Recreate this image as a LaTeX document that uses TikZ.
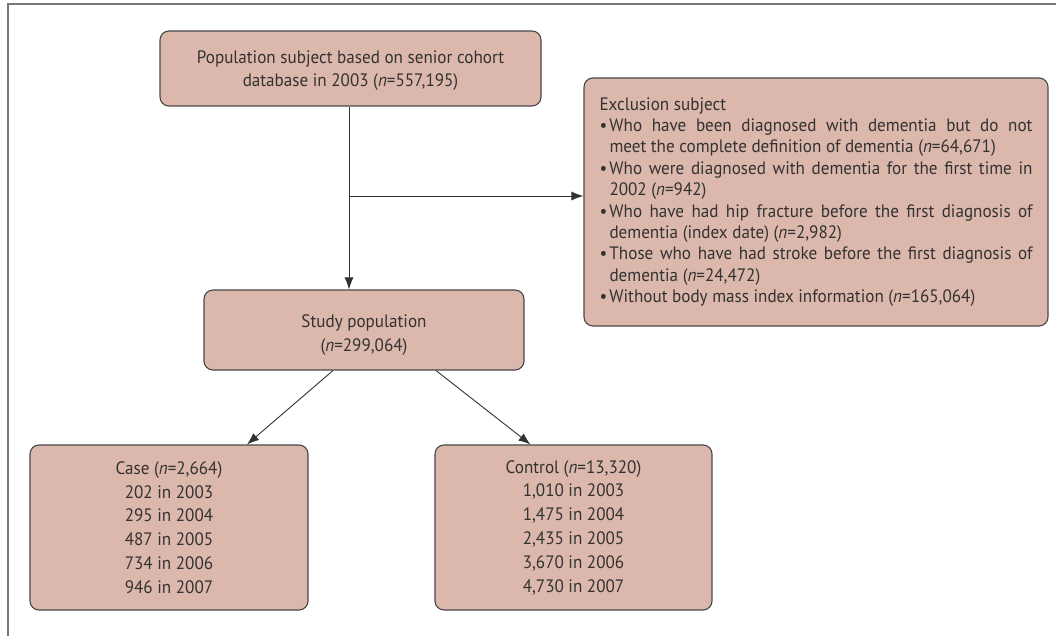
\documentclass[tikz,border=0pt]{standalone}
\usepackage{fontspec}
\setmainfont[FakeStretch=0.95]{PT Sans}
\usetikzlibrary{arrows.meta,calc}
\definecolor{boxfill}{RGB}{220,184,172}
\definecolor{boxdraw}{RGB}{72,72,72}
\definecolor{txt}{RGB}{50,50,50}
\definecolor{framec}{RGB}{120,120,120}
\newcommand{\exitem}[1]{\par\noindent\hangindent=10pt\hangafter=1\makebox[10pt][l]{\textbullet}#1}
\begin{document}
\begin{tikzpicture}[x=1pt,y=-1pt,
  box/.style={draw=boxdraw, fill=boxfill, rounded corners=9pt, line width=1.1pt,
    text=txt, inner sep=0pt, font=\fontsize{18}{23.8}\selectfont},
  arr/.style={draw=txt, line width=0.9pt, -{Latex[length=12pt,width=9pt]}},
  link/.style={draw=txt, line width=0.9pt}]
\useasboundingbox (0,0) rectangle (1056,636);
\draw[framec, line width=2pt] (8,636) -- (8,4.5) -- (1056,4.5);

\node[box, minimum width=381pt, minimum height=75pt, align=center] (top) at (350.5,68.5)
  {\rule{0pt}{17pt}Population subject based on senior cohort\\database in 2003 (\textit{n}=557,195)};

\node[box, minimum width=464pt, minimum height=248pt, text width=433pt, align=justify,
      font=\fontsize{18}{21.4}\selectfont] (excl) at (816,202)
  {Exclusion subject
   \exitem{Who have been diagnosed with dementia but do not\linebreak meet the complete definition of dementia (\textit{n}=64,671)}
   \exitem{Who were diagnosed with dementia for the first time in\linebreak 2002 (\textit{n}=942)}
   \exitem{Who have had hip fracture before the first diagnosis of\linebreak dementia (index date) (\textit{n}=2,982)}
   \exitem{Those who have had stroke before the first diagnosis of\linebreak dementia (\textit{n}=24,472)}
   \exitem{Without body mass index information (\textit{n}=165,064)}};

\node[box, minimum width=320pt, minimum height=80pt, align=center] (study) at (364,330)
  {\rule{0pt}{23pt}Study population\\(\textit{n}=299,064)};

\node[box, minimum width=278pt, minimum height=165pt, align=center] (case) at (169,527.5)
  {Case (\textit{n}=2,664)\\202 in 2003\\295 in 2004\\487 in 2005\\734 in 2006\\946 in 2007};

\node[box, minimum width=277pt, minimum height=165pt, align=center] (control) at (573.5,527.5)
  {Control (\textit{n}=13,320)\\1,010 in 2003\\1,475 in 2004\\2,435 in 2005\\3,670 in 2006\\4,730 in 2007};

\coordinate (br) at (349,196);
\draw[link] ([xshift=-1.5pt]top.south) -- (br);
\draw[arr] (br) -- ([xshift=-1.5pt]top.south |- study.north);
\draw[arr] (br) -- (br -| excl.west);
\draw[arr] ([xshift=-31pt]study.south) -- ([xshift=78pt]case.north);
\draw[arr] ([xshift=72pt]study.south) -- ([xshift=-43pt]control.north);
\end{tikzpicture}
\end{document}
